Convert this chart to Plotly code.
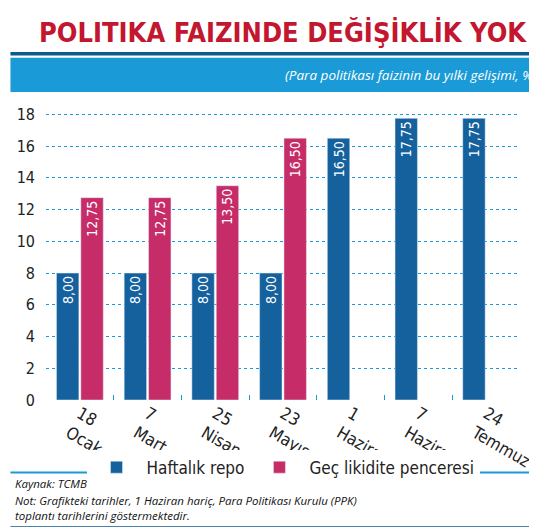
import plotly.graph_objects as go

dates = ["18<br>Ocak", "7<br>Mart", "25<br>Nisan", "23<br>Mayıs",
         "1<br>Haziran", "7<br>Haziran", "24<br>Temmuz"]
repo = [8.00, 8.00, 8.00, 8.00, 16.50, 17.75, 17.75]
gec = [12.75, 12.75, 13.50, 16.50, None, None, None]

BLUE = "#14619e"
PINK = "#c62c68"
CYAN = "#1a9ad6"
COND = "Liberation Sans Narrow, DejaVu Sans Condensed, sans-serif"


def fmt(v):
    return "" if v is None else f"{v:.2f}".replace(".", ",")


fig = go.Figure()
for name, vals, col in [("Haftalık repo", repo, BLUE), ("Geç likidite penceresi", gec, PINK)]:
    fig.add_trace(go.Bar(
        x=dates, y=vals, name=name, marker_color=col,
        text=[fmt(v) for v in vals], textposition="inside", insidetextanchor="end",
        textangle=-90, textfont=dict(color="white", size=14, family=COND),
    ))

fig.update_layout(
    width=537, height=527,
    barmode="group", bargap=0.28, bargroupgap=0.08,
    plot_bgcolor="white", paper_bgcolor="white",
    margin=dict(l=38, r=25, t=100, b=135),
    font=dict(family=COND, color="#222"),
    uniformtext=dict(minsize=11, mode="show"),
    xaxis=dict(tickfont=dict(size=17), showgrid=False, ticks="inside", automargin=False,
               tickson="boundaries", tickcolor=CYAN, ticklen=5, showline=False),
    yaxis=dict(range=[0, 18.4], dtick=2, tickfont=dict(size=16), automargin=False,
               showgrid=True, gridcolor=CYAN, griddash="dot", gridwidth=1.3,
               zeroline=False, ticklabelstandoff=10),
    legend=dict(orientation="h", x=0.5, xanchor="center", y=-0.17, yanchor="top",
                font=dict(size=17), itemwidth=50, traceorder="normal"),
)

fig.add_shape(type="rect", xref="paper", yref="paper", x0=-0.075, x1=1.055,
              y0=1.18, y1=1.192, fillcolor="#0e5a8a", line_width=0)
fig.add_shape(type="rect", xref="paper", yref="paper", x0=-0.075, x1=1.055,
              y0=1.055, y1=1.172, fillcolor=CYAN, line_width=0)
fig.add_shape(type="rect", xref="paper", yref="paper", x0=-0.075, x1=1.055,
              y0=-0.252, y1=-0.245, fillcolor=CYAN, line_width=0)
fig.add_shape(type="rect", xref="paper", yref="paper", x0=-0.075, x1=1.055,
              y0=-0.445, y1=-0.432, fillcolor="#0e5a8a", line_width=0)

fig.add_annotation(text="<b>POLITIKA FAIZINDE DEĞİŞİKLİK YOK</b>", xref="paper", yref="paper",
                   x=0.5, y=1.2, yanchor="bottom", showarrow=False,
                   font=dict(size=27, color="#c3162f", family=COND))
fig.add_annotation(text="<i>(Para politikası faizinin bu yılki gelişimi, %)</i>", xref="paper",
                   yref="paper", x=1.04, xanchor="right", y=1.113, yanchor="middle",
                   showarrow=False, font=dict(size=13.5, color="white", family="Open Sans"))
fig.add_annotation(text="<i>Kaynak: TCMB</i>", xref="paper", yref="paper", x=-0.07,
                   xanchor="left", y=-0.255, yanchor="top", showarrow=False,
                   font=dict(size=11.5, color="#111", family="Open Sans"))
fig.add_annotation(text="<i>Not: Grafikteki tarihler, 1 Haziran hariç, Para Politikası Kurulu (PPK)<br>"
                   "toplantı tarihlerini göstermektedir.</i>", xref="paper", yref="paper",
                   x=-0.07, xanchor="left", y=-0.31, yanchor="top", showarrow=False, align="left",
                   font=dict(size=11.5, color="#111", family="Open Sans"))

fig.write_html("out.html")
